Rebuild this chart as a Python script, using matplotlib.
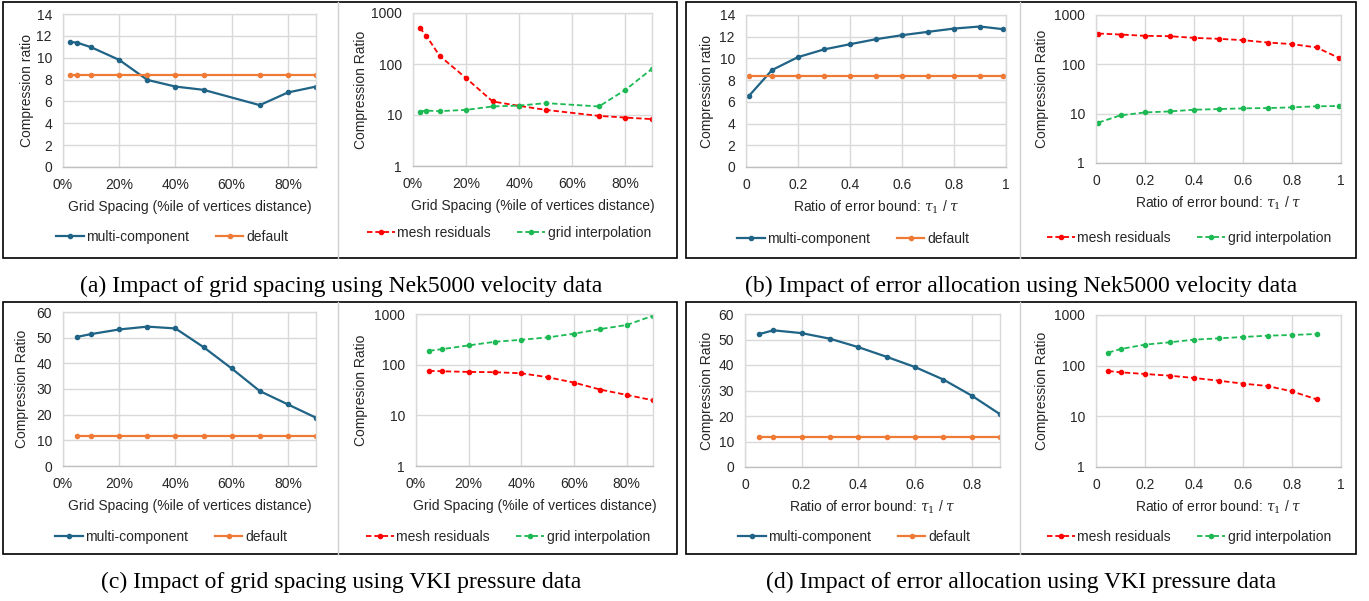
import matplotlib
matplotlib.use("Agg")
import matplotlib.pyplot as plt
from matplotlib.patches import Rectangle
from matplotlib.lines import Line2D

# ---------------- data ----------------
# (a) grid spacing, Nek5000 velocity
a_x = [0.025, 0.05, 0.1, 0.2, 0.3, 0.4, 0.5, 0.7, 0.8, 0.9]
a_multi = [11.44, 11.38, 10.96, 9.8, 7.97, 7.36, 7.06, 5.66, 6.82, 7.36]
a_default = [8.42] * 10
a_mesh = [515, 359, 145, 52.8, 18.4, 15.1, 12.6, 9.6, 8.9, 8.3]
a_grid = [11.7, 12.2, 11.9, 12.6, 14.7, 15.3, 17.1, 14.7, 31.2, 80.5]

# (b) error allocation, Nek5000 velocity
b_x = [0.01, 0.1, 0.2, 0.3, 0.4, 0.5, 0.6, 0.7, 0.8, 0.9, 0.99]
b_multi = [6.51, 8.93, 10.12, 10.83, 11.31, 11.77, 12.14, 12.45, 12.75, 12.94, 12.69]
b_default = [8.4] * 11
b_mesh = [421, 402, 378, 372, 344, 329, 309, 277, 257, 220, 136]
b_grid = [6.6, 9.25, 10.6, 11.1, 12.0, 12.4, 12.8, 13.0, 13.4, 14.1, 14.3]

# (c) grid spacing, VKI pressure
c_x = [0.05, 0.1, 0.2, 0.3, 0.4, 0.5, 0.6, 0.7, 0.8, 0.9]
c_multi = [50.3, 51.4, 53.2, 54.3, 53.6, 46.3, 38.0, 29.2, 24.0, 18.8]
c_default = [11.8] * 10
c_mesh = [75.5, 74, 72, 71, 67.6, 56.5, 44.3, 32.2, 25.3, 19.8]
c_grid = [188, 203, 240, 283, 310, 345, 408, 505, 606, 927]

# (d) error allocation, VKI pressure
d_x = [0.05, 0.1, 0.2, 0.3, 0.4, 0.5, 0.6, 0.7, 0.8, 0.9]
d_multi = [52.1, 53.6, 52.5, 50.3, 47.0, 43.2, 39.2, 34.3, 28.0, 20.7]
d_default = [11.8] * 10
d_mesh = [78.5, 73.9, 68.5, 63.5, 57.1, 50.6, 44.2, 39.7, 31.1, 21.7]
d_grid = [181, 213, 260, 289, 326, 346, 368, 391, 403, 422]

pct_ticks = [0, 0.2, 0.4, 0.6, 0.8]
pct_labels = ["0%", "20%", "40%", "60%", "80%"]
ratio_ticks = [0, 0.2, 0.4, 0.6, 0.8, 1]
ratio_labels = ["0", "0.2", "0.4", "0.6", "0.8", "1"]
log_ticks = [1, 10, 100, 1000]
log_labels = ["1", "10", "100", "1000"]

xlabel_grid = "Grid Spacing (%ile of vertices distance)"
xlabel_ratio = r"Ratio of error bound: $\tau_1$ / $\tau$"

captions = [
    "(a) Impact of grid spacing using Nek5000 velocity data",
    "(b) Impact of error allocation using Nek5000 velocity data",
    "(c) Impact of grid spacing using VKI pressure data",
    "(d) Impact of error allocation using VKI pressure data",
]

# ---------------- style ----------------
C_MULTI = "#1f6386"
C_DEF = "#ee7a36"
C_MESH = "#ff0000"
C_GRID = "#1db954"
GRIDC = "#d9d9d9"
TXT = "#262626"
FONT = "Liberation Sans"
FS = 10

plt.rcParams["font.family"] = [FONT, "DejaVu Sans"]
plt.rcParams["mathtext.fontset"] = "dejavuserif"

W, H = 1369, 601
fig = plt.figure(figsize=(W / 100, H / 100), dpi=100)


def make_ax(x0, x1, y0, y1):
    return fig.add_axes([x0 / W, 1 - y1 / H, (x1 - x0) / W, (y1 - y0) / H])


def style(ax, ylabel, xlabel, ylab_off, log=False):
    ax.grid(True, color=GRIDC, lw=1.0)
    ax.set_axisbelow(True)
    for s in ax.spines.values():
        s.set_color(GRIDC)
        s.set_linewidth(1.0)
    ax.spines["bottom"].set_color("#bfbfbf")
    ax.tick_params(length=0, labelsize=FS, colors=TXT, pad=8)
    ax.set_ylabel(ylabel, fontsize=FS, color=TXT)
    ax.set_xlabel(xlabel, fontsize=FS, color=TXT)
    bb = ax.get_position()
    hpx = bb.height * H
    wpx = bb.width * W
    ax.xaxis.set_label_coords(0.5, -40 / hpx)
    ax.xaxis.label.set_va("center")
    ax.yaxis.set_label_coords(-ylab_off / wpx, 0.5)
    ax.yaxis.label.set_va("center")


def lin_panel(ax, x, multi, default, ymax, ystep, xmax, xt, xl, ylabel, xlabel, yoff):
    ax.plot(x, multi, color=C_MULTI, lw=1.6, marker="o", ms=3.0, label="multi-component")
    ax.plot(x, default, color=C_DEF, lw=1.6, marker="o", ms=3.0, label="default")
    ax.set_ylim(0, ymax)
    ax.set_yticks(list(range(0, ymax + 1, ystep)))
    ax.set_xlim(0, xmax)
    ax.set_xticks(xt)
    ax.set_xticklabels(xl)
    style(ax, ylabel, xlabel, yoff)


def log_panel(ax, x, mesh, grid, xmax, xt, xl, ylabel, xlabel, yoff):
    ax.plot(x, mesh, color=C_MESH, lw=1.3, ls=(0, (3, 1.6)), marker="o", ms=3.0, label="mesh residuals")
    ax.plot(x, grid, color=C_GRID, lw=1.3, ls=(0, (3, 1.6)), marker="o", ms=3.0, label="grid interpolation")
    ax.set_yscale("log")
    ax.set_ylim(1, 1000)
    ax.set_yticks(log_ticks)
    ax.set_yticklabels(log_labels)
    ax.minorticks_off()
    ax.set_xlim(0, xmax)
    ax.set_xticks(xt)
    ax.set_xticklabels(xl)
    style(ax, ylabel, xlabel, yoff, log=True)


def add_legend(ax, cx, cy):
    ax.legend(loc="center", bbox_to_anchor=(cx / W, 1 - cy / H), bbox_transform=fig.transFigure,
              ncol=2, frameon=False, fontsize=FS, handlelength=2.0, handletextpad=0.2,
              columnspacing=1.9, labelcolor=TXT)


# panel frames
frames = [(3, 2, 677, 258, 338), (686, 2, 1356, 258, 1020),
          (3, 302, 677, 554, 338), (686, 302, 1356, 554, 1020)]
for (x0, y0, x1, y1, xd) in frames:
    fig.add_artist(Rectangle((x0 / W, 1 - y1 / H), (x1 - x0) / W, (y1 - y0) / H,
                             transform=fig.transFigure, fill=False, ec="#000000", lw=1.2))
    fig.add_artist(Line2D([xd / W, xd / W], [1 - y1 / H, 1 - y0 / H], transform=fig.transFigure,
                          color="#d0d0d0", lw=1.0))

# (a)
ax = make_ax(63, 316, 14, 167)
lin_panel(ax, a_x, a_multi, a_default, 14, 2, 0.9, pct_ticks, pct_labels,
          "Compression ratio", xlabel_grid, 36)
add_legend(ax, 172, 237)
ax = make_ax(413, 652, 13, 166)
log_panel(ax, a_x, a_mesh, a_grid, 0.9, pct_ticks, pct_labels,
          "Compression Ratio", xlabel_grid, 52)
add_legend(ax, 509, 233)

# (b)
ax = make_ax(746, 1006, 15, 167)
lin_panel(ax, b_x, b_multi, b_default, 14, 2, 1.0, ratio_ticks, ratio_labels,
          "Compression ratio", xlabel_ratio, 39)
add_legend(ax, 853, 239)
ax = make_ax(1096, 1341, 15, 163)
log_panel(ax, b_x, b_mesh, b_grid, 1.0, ratio_ticks, ratio_labels,
          "Compression Ratio", xlabel_ratio, 54)
add_legend(ax, 1189, 238)

# (c)
ax = make_ax(63, 316, 312, 466)
lin_panel(ax, c_x, c_multi, c_default, 60, 10, 0.9, pct_ticks, pct_labels,
          "Compression Ratio", xlabel_grid, 41)
add_legend(ax, 171, 537)
ax = make_ax(416, 653, 314, 466)
log_panel(ax, c_x, c_mesh, c_grid, 0.9, pct_ticks, pct_labels,
          "Compresion Ratio", xlabel_grid, 55)
add_legend(ax, 508, 537)

# (d)
ax = make_ax(745, 1000, 314, 467)
lin_panel(ax, d_x, d_multi, d_default, 60, 10, 0.9, ratio_ticks[:5],
          ratio_labels[:5], "Compression Ratio", xlabel_ratio, 38)
add_legend(ax, 854, 537)
ax = make_ax(1096, 1341, 315, 467)
log_panel(ax, d_x, d_mesh, d_grid, 1.0, ratio_ticks, ratio_labels,
          "Compression Ratio", xlabel_ratio, 54)
add_legend(ax, 1189, 537)

# captions
cap_pos = [(341, 286), (1021, 286), (341, 582), (1021, 582)]
for (cx, cy), t in zip(cap_pos, captions):
    fig.text(cx / W, 1 - cy / H, t, ha="center", va="center", fontsize=17,
             family=["Liberation Serif", "DejaVu Serif"], color="#000000")

fig.savefig("out.png", dpi=100)
